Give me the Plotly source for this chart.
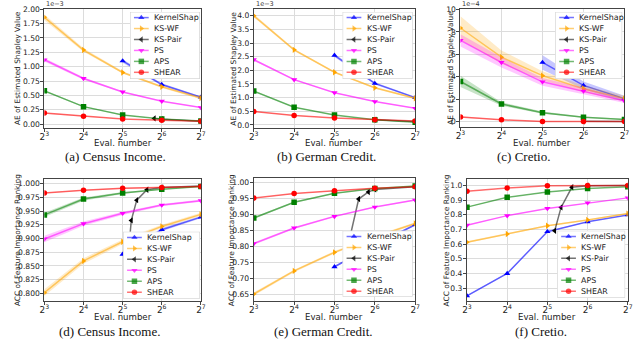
import math
import plotly.graph_objects as go

W, H = 640, 352
FONT = "DejaVu Sans"

x_eval = [8, 16, 32, 64, 128]
x_eval_ks = [32, 64, 128]
x_ticktext = ["2<sup>3</sup>", "2<sup>4</sup>", "2<sup>5</sup>", "2<sup>6</sup>", "2<sup>7</sup>"]

methods = ["KernelShap", "KS-WF", "KS-Pair", "PS", "APS", "SHEAR"]
colors = ["#0000ff", "#ffa500", "#000000", "#ff00ff", "#008000", "#ff0000"]
symbols = ["triangle-up", "triangle-right", "triangle-left", "triangle-down", "square", "circle"]

# (a) Census Income, AE of estimated Shapley value (x1e-3)
a_ks = [1.10, 0.69, 0.47]
a_ks_sd = [0.03, 0.02, 0.015]
a_kswf = [1.86, 1.29, 0.90, 0.65, 0.455]
a_kswf_sd = [0.05, 0.03, 0.02, 0.02, 0.02]
a_pair_x = [56, 64, 128]
a_pair = [0.10, 0.085, 0.05]
a_ps = [1.12, 0.795, 0.56, 0.40, 0.29]
a_ps_sd = [0.03, 0.02, 0.015, 0.01, 0.01]
a_aps = [0.58, 0.305, 0.16, 0.09, 0.056]
a_aps_sd = [0.015, 0.01, 0.008, 0.005, 0.004]
a_shear = [0.193, 0.136, 0.091, 0.068, 0.051]
a_shear_sd = [0.01, 0.008, 0.005, 0.004, 0.003]

# (b) German Credit, AE (x1e-3)
b_ks = [2.55, 1.52, 1.0]
b_ks_sd = [0.06, 0.04, 0.03]
b_kswf = [4.0, 2.75, 1.93, 1.36, 0.975]
b_kswf_sd = [0.06, 0.04, 0.03, 0.03, 0.03]
b_pair_x = [64, 128]
b_pair = [0.19, 0.13]
b_ps = [2.39, 1.66, 1.18, 0.855, 0.61]
b_ps_sd = [0.04, 0.03, 0.02, 0.02, 0.02]
b_aps = [1.24, 0.65, 0.36, 0.19, 0.096]
b_aps_sd = [0.03, 0.02, 0.01, 0.01, 0.01]
b_shear = [0.495, 0.35, 0.253, 0.193, 0.145]
b_shear_sd = [0.02, 0.015, 0.01, 0.01, 0.01]

# (c) Cretio, AE (x1e-4)
c_ks = [5.28, 3.23, 2.05]
c_ks_sd = [0.65, 0.35, 0.25]
c_kswf = [8.35, 5.75, 4.1, 2.93, 2.05]
c_kswf_sd = [1.05, 0.6, 0.4, 0.3, 0.25]
c_pair_x = [64, 128]
c_pair = [0.03, 0.0]
c_ps = [7.25, 5.28, 3.55, 2.73, 1.85]
c_ps_sd = [0.55, 0.45, 0.35, 0.3, 0.2]
c_aps = [3.58, 1.57, 0.8, 0.4, 0.2]
c_aps_sd = [0.5, 0.15, 0.1, 0.06, 0.05]
c_shear = [0.42, 0.16, 0.02, 0.0, 0.0]
c_shear_sd = [0.05, 0.04, 0.03, 0.02, 0.02]

# (d) Census Income, ACC of feature importance ranking
d_ks = [0.871, 0.916, 0.939]
d_ks_sd = [0.003, 0.003, 0.002]
d_kswf = [0.801, 0.859, 0.894, 0.922, 0.944]
d_kswf_sd = [0.006, 0.005, 0.004, 0.003, 0.003]
d_pair_x = [34, 37.3, 41.1, 49.2, 64, 128]
d_pair = [0.825, 0.933, 0.970, 0.989, 0.993, 0.996]
d_ps = [0.899, 0.927, 0.946, 0.961, 0.969]
d_ps_sd = [0.006, 0.004, 0.003, 0.002, 0.002]
d_aps = [0.943, 0.972, 0.983, 0.990, 0.995]
d_aps_sd = [0.004, 0.003, 0.002, 0.001, 0.001]
d_shear = [0.983, 0.988, 0.9915, 0.993, 0.995]
d_shear_sd = [0.001, 0.001, 0.001, 0.001, 0.001]

# (e) German Credit, ACC
e_ks = [0.737, 0.805, 0.868]
e_ks_sd = [0.003, 0.003, 0.003]
e_kswf = [0.652, 0.724, 0.782, 0.830, 0.872]
e_kswf_sd = [0.005, 0.004, 0.004, 0.004, 0.004]
e_pair_x = [40.8, 48.5, 57.3, 64, 128]
e_pair = [0.811, 0.948, 0.970, 0.978, 0.986]
e_ps = [0.809, 0.858, 0.894, 0.923, 0.945]
e_ps_sd = [0.004, 0.003, 0.003, 0.002, 0.002]
e_aps = [0.889, 0.938, 0.966, 0.981, 0.989]
e_aps_sd = [0.003, 0.002, 0.002, 0.001, 0.001]
e_shear = [0.951, 0.965, 0.974, 0.982, 0.986]
e_shear_sd = [0.001, 0.001, 0.001, 0.001, 0.001]

# (f) Cretio, ACC
f_ks = [0.248, 0.400, 0.685, 0.752, 0.799]
f_ks_sd = [0.005, 0.005, 0.004, 0.003, 0.003]
f_kswf = [0.613, 0.669, 0.725, 0.765, 0.808]
f_kswf_sd = [0.006, 0.005, 0.005, 0.004, 0.004]
f_pair_x = [36.3, 40.5, 48.8, 64, 128]
f_pair = [0.691, 0.850, 0.987, 0.998, 1.0]
f_ps = [0.729, 0.794, 0.843, 0.881, 0.915]
f_ps_sd = [0.004, 0.003, 0.003, 0.002, 0.002]
f_aps = [0.852, 0.919, 0.955, 0.978, 0.991]
f_aps_sd = [0.003, 0.002, 0.002, 0.001, 0.001]
f_shear = [0.960, 0.982, 0.998, 1.0, 1.0]
f_shear_sd = [0.001, 0.001, 0.001, 0.001, 0.001]

ae_title = "AE of Estimated Shapley Value"
acc_title = "ACC of Feature Importance Ranking"

panels = [
    dict(series=[(x_eval_ks, a_ks, a_ks_sd), (x_eval, a_kswf, a_kswf_sd), (a_pair_x, a_pair, None),
                 (x_eval, a_ps, a_ps_sd), (x_eval, a_aps, a_aps_sd), (x_eval, a_shear, a_shear_sd)],
         box=(40, 5, 199, 126), yrange=[-0.07, 2.005], tick0=0, dtick=0.25, fmt=".2f",
         ytitle=ae_title, ytx=12.7, cap="(a) Census Income.", capx=112, capy=155, xty=141,
         leg=(127, 8, 198, 76), offset="1e\u22123"),
    dict(series=[(x_eval_ks, b_ks, b_ks_sd), (x_eval, b_kswf, b_kswf_sd), (b_pair_x, b_pair, None),
                 (x_eval, b_ps, b_ps_sd), (x_eval, b_aps, b_aps_sd), (x_eval, b_shear, b_shear_sd)],
         box=(252.7, 5, 416.7, 126), yrange=[-0.12, 4.25], tick0=0, dtick=0.5, fmt=".1f",
         ytitle=ae_title, ytx=231.7, cap="(b) German Credit.", capx=327, capy=155, xty=141,
         leg=(343, 8, 414, 76), offset="1e\u22123"),
    dict(series=[(x_eval_ks, c_ks, c_ks_sd), (x_eval, c_kswf, c_kswf_sd), (c_pair_x, c_pair, None),
                 (x_eval, c_ps, c_ps_sd), (x_eval, c_aps, c_aps_sd), (x_eval, c_shear, c_shear_sd)],
         box=(462.7, 5, 629.3, 125), yrange=[-0.5, 10.05], tick0=0, dtick=2, fmt="d",
         ytitle=ae_title, ytx=451.7, cap="(c) Cretio.", capx=527, capy=155, xty=141,
         leg=(559, 8, 627, 76), offset="1e\u22124"),
    dict(series=[(x_eval_ks, d_ks, d_ks_sd), (x_eval, d_kswf, d_kswf_sd), (d_pair_x, d_pair, None),
                 (x_eval, d_ps, d_ps_sd), (x_eval, d_aps, d_aps_sd), (x_eval, d_shear, d_shear_sd)],
         box=(40, 177.3, 199, 301.7), yrange=[0.785, 1.009], tick0=0.8, dtick=0.025, fmt=".3f",
         ytitle=acc_title, ytx=12.2, cap="(d) Census Income.", capx=106, capy=332, xty=318,
         leg=(120, 231, 198, 299), offset=None),
    dict(series=[(x_eval_ks, e_ks, e_ks_sd), (x_eval, e_kswf, e_kswf_sd), (e_pair_x, e_pair, None),
                 (x_eval, e_ps, e_ps_sd), (x_eval, e_aps, e_aps_sd), (x_eval, e_shear, e_shear_sd)],
         box=(252.7, 176.7, 416.7, 301.7), yrange=[0.629, 1.013], tick0=0.65, dtick=0.05, fmt=".2f",
         ytitle=acc_title, ytx=230, cap="(e) German Credit.", capx=324, capy=332, xty=318,
         leg=(343, 230, 414, 297), offset=None),
    dict(series=[(x_eval, f_ks, f_ks_sd), (x_eval, f_kswf, f_kswf_sd), (f_pair_x, f_pair, None),
                 (x_eval, f_ps, f_ps_sd), (x_eval, f_aps, f_aps_sd), (x_eval, f_shear, f_shear_sd)],
         box=(469.3, 177.3, 632.7, 301.7), yrange=[0.21, 1.045], tick0=0.3, dtick=0.1, fmt=".1f",
         ytitle=acc_title, ytx=448.3, cap="(f) Cretio.", capx=545, capy=332, xty=318,
         leg=(561, 230, 630, 298), offset=None),
]


def rgba(hexc, a):
    h = hexc.lstrip("#")
    return "rgba(%d,%d,%d,%s)" % (int(h[0:2], 16), int(h[2:4], 16), int(h[4:6], 16), a)


fig = go.Figure()
layout = {}
annotations = []
shapes = []

for i, p in enumerate(panels):
    sfx = "" if i == 0 else str(i + 1)
    xa, ya = "x" + sfx, "y" + sfx
    x0, y0, x1, y1 = p["box"]

    for m, (xs, ys, sd) in enumerate(p["series"]):
        if sd is not None:
            up = [v + s for v, s in zip(ys, sd)]
            lo = [v - s for v, s in zip(ys, sd)]
            fig.add_trace(go.Scatter(
                x=xs + xs[::-1], y=up + lo[::-1], fill="toself",
                fillcolor=rgba(colors[m], 0.22), line=dict(width=0), mode="lines",
                hoverinfo="skip", showlegend=False, xaxis=xa, yaxis=ya))
        fig.add_trace(go.Scatter(
            x=xs, y=ys, mode="lines+markers", name=methods[m], showlegend=False,
            line=dict(color=rgba(colors[m], 0.55), width=1.5),
            marker=dict(color=colors[m], size=5.5, symbol=symbols[m], line=dict(width=0)),
            xaxis=xa, yaxis=ya))

    layout["xaxis" + sfx] = dict(
        domain=[x0 / W, x1 / W], anchor=ya, type="log",
        range=[math.log10(8), math.log10(128)],
        tickvals=x_eval, ticktext=x_ticktext,
        showgrid=True, gridcolor="#dcdcdc", gridwidth=0.8, zeroline=False,
        showline=True, mirror=True, linecolor="#444444", linewidth=1,
        ticks="outside", ticklen=3, tickcolor="#444444", ticklabelstandoff=-3,
        tickfont=dict(family=FONT, size=8.8, color="#222222"))
    layout["yaxis" + sfx] = dict(
        domain=[1 - y1 / H, 1 - y0 / H], anchor=xa, range=p["yrange"],
        tick0=p["tick0"], dtick=p["dtick"], tickformat=p["fmt"],
        showgrid=True, gridcolor="#dcdcdc", gridwidth=0.8, zeroline=False,
        showline=True, mirror=True, linecolor="#444444", linewidth=1,
        ticks="outside", ticklen=3, tickcolor="#444444", ticklabelstandoff=-1,
        tickfont=dict(family=FONT, size=7.6, color="#222222"))

    # axis titles and captions
    annotations.append(dict(
        text="Eval. number", x=(x0 + x1) / 2 / W, y=1 - p["xty"] / H, xref="paper", yref="paper",
        showarrow=False, xanchor="center", yanchor="middle",
        font=dict(family=FONT, size=8.6, color="#222222")))
    annotations.append(dict(
        text=p["ytitle"], x=p["ytx"] / W, y=1 - (y0 + y1) / 2 / H, xref="paper", yref="paper",
        showarrow=False, xanchor="center", yanchor="middle", textangle=-90,
        font=dict(family=FONT, size=7.4, color="#222222")))
    annotations.append(dict(
        text=p["cap"], x=p["capx"] / W, y=1 - p["capy"] / H, xref="paper", yref="paper",
        showarrow=False, xanchor="center", yanchor="middle",
        font=dict(family="Liberation Serif", size=13, color="#111111")))
    if p["offset"]:
        annotations.append(dict(
            text=p["offset"], x=x0 / W, y=1.0, xref="paper", yref="paper",
            showarrow=False, xanchor="left", yanchor="middle",
            font=dict(family=FONT, size=6.5, color="#333333")))

    # legend drawn in its own hidden axes
    lsfx = str(i + 7)
    lx0, ly0, lx1, ly1 = p["leg"]
    lw, lh = lx1 - lx0, ly1 - ly0
    layout["xaxis" + lsfx] = dict(domain=[lx0 / W, lx1 / W], anchor="y" + lsfx,
                                  range=[0, lw], visible=False, fixedrange=True)
    layout["yaxis" + lsfx] = dict(domain=[1 - ly1 / H, 1 - ly0 / H], anchor="x" + lsfx,
                                  range=[lh, 0], visible=False, fixedrange=True)
    shapes.append(dict(type="rect", xref="x" + lsfx, yref="y" + lsfx, x0=0, x1=lw, y0=0, y1=lh,
                       fillcolor="rgba(255,255,255,0.8)", line=dict(color="#cccccc", width=1),
                       layer="below"))
    for m, name in enumerate(methods):
        ry = 5.8 + 11.1 * m
        fig.add_trace(go.Scatter(
            x=[4, 11.5, 19], y=[ry, ry, ry], mode="lines+markers", showlegend=False,
            hoverinfo="skip", line=dict(color=rgba(colors[m], 0.55), width=1.5),
            marker=dict(color=colors[m], size=[0, 5.5, 0], symbol=symbols[m], line=dict(width=0)),
            xaxis="x" + lsfx, yaxis="y" + lsfx))
        annotations.append(dict(
            text=name, x=22.5, y=ry, xref="x" + lsfx, yref="y" + lsfx, showarrow=False,
            xanchor="left", yanchor="middle", font=dict(family=FONT, size=7.9, color="#222222")))

fig.update_layout(
    width=W, height=H, margin=dict(l=0, r=0, t=0, b=0),
    paper_bgcolor="white", plot_bgcolor="white", showlegend=False,
    annotations=annotations, shapes=shapes, **layout)

fig.write_html("out.html", config={"displayModeBar": False},
               post_script="document.body.style.margin='0';")
